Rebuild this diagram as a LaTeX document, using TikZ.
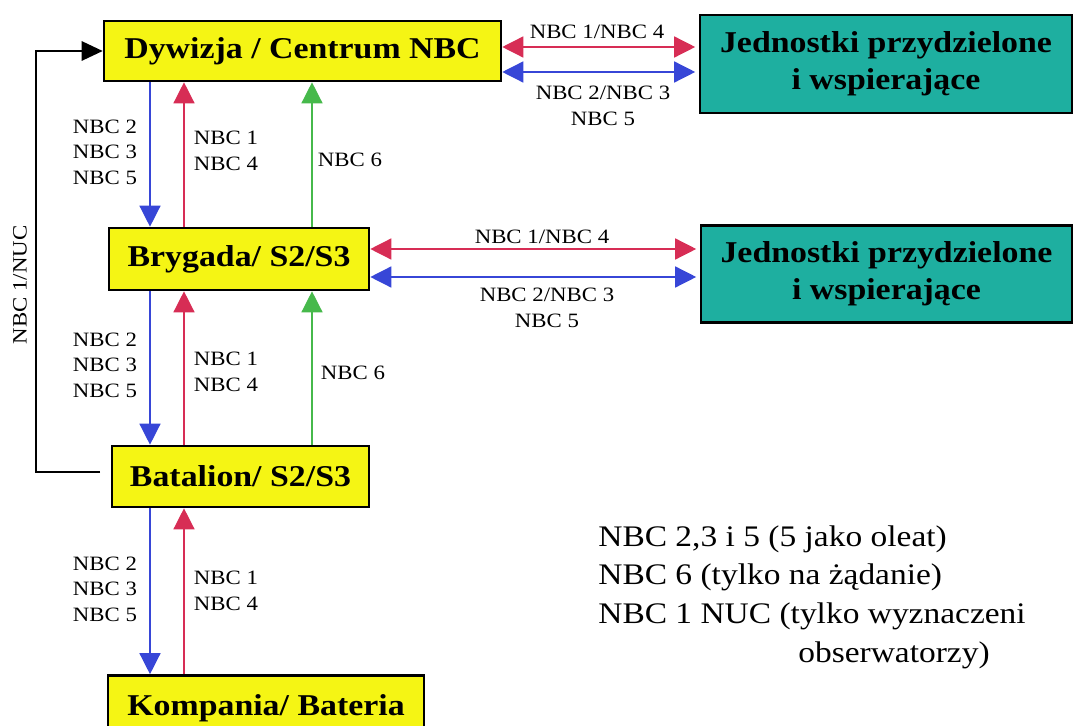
\documentclass[tikz,border=0pt]{standalone}
\usepackage{fontspec}
\setmainfont{Liberation Serif}[FakeStretch=1.12]
\usetikzlibrary{arrows.meta}

\definecolor{boxyellow}{RGB}{245,245,20}
\definecolor{boxteal}{RGB}{30,175,160}
\definecolor{arrred}{RGB}{215,45,85}
\definecolor{arrblue}{RGB}{55,70,215}
\definecolor{arrgreen}{RGB}{70,185,75}

\tikzset{
	unit/.style={draw=black, line width=1.5pt, fill=boxyellow, font=\fontsize{17.2}{21}\selectfont\bfseries, inner sep=0pt},
	attached/.style={unit, fill=boxteal, align=center},
	lab/.style={font=\fontsize{11.6}{14.5}\selectfont, align=left, inner sep=0pt},
	flow/.style={line width=0.8pt, -{Triangle[length=12pt,width=12pt]}},
	both/.style={line width=0.8pt, {Triangle[length=12pt,width=12pt]}-{Triangle[length=12pt,width=12pt]}, shorten >=2pt},
}

\begin{document}
\begin{tikzpicture}[x=0.02cm, y=-0.02cm]
	\useasboundingbox (0,0) rectangle (1076,726);
	% chain of command
	\node[unit, minimum width=7.94cm, minimum height=1.2cm] (dyw) at (302.5,51) {Dywizja / Centrum NBC};
	\node[unit, minimum width=5.2cm, minimum height=1.24cm] (bry) at (239,259) {Brygada/ S2/S3};
	\node[unit, minimum width=5.14cm, minimum height=1.22cm] (bat) at (240.5,476.5) {Batalion/ S2/S3};
	\node[unit, minimum width=6.32cm, minimum height=1.3cm] (kom) at (266,708) {Kompania/ Bateria};
	\node[attached, minimum width=7.44cm, minimum height=1.96cm] (jed1) at (886,64) {Jednostki przydzielone\\i wspierające};
	\node[attached, minimum width=7.42cm, minimum height=1.94cm] (jed2) at (886.5,274) {Jednostki przydzielone\\i wspierające};
	% vertical reports
	\coordinate (cb) at (150,0);
	\coordinate (cr) at (184,0);
	\coordinate (cg) at (312,0);
	\foreach \hi/\lo in {dyw/bry, bry/bat, bat/kom} {
		\draw[flow, arrblue] (cb |- \hi.south) -- (cb |- \lo.north);
		\draw[flow, arrred] (cr |- \lo.north) -- (cr |- \hi.south);
	}
	\foreach \hi/\lo in {dyw/bry, bry/bat} { \draw[flow, arrgreen] (cg |- \lo.north) -- (cg |- \hi.south); }
	\foreach \y/\lab in {152/a, 365/b, 589/c} { \node[lab] (down\lab) at (105,\y) {NBC 2\\NBC 3\\NBC 5}; }
	\foreach \y/\lab in {151/a, 372/b, 591/c} { \node[lab] (up\lab) at (226,\y) {NBC 1\\NBC 4}; }
	\node[lab] (sixa) at (350,160) {NBC 6};
	\node[lab] (sixb) at (353,373) {NBC 6};
	% side links
	\draw[both, arrred] (dyw.east |- 0,47) -- (jed1.west |- 0,47);
	\draw[both, arrblue] (dyw.east |- 0,72) -- (jed1.west |- 0,72);
	\draw[both, arrred] (bry.east |- 0,249) -- (jed2.west |- 0,249);
	\draw[both, arrblue] (bry.east |- 0,277) -- (jed2.west |- 0,277);
	\node[lab] (sidea) at (597,32) {NBC 1/NBC 4};
	\node[lab, align=center] (sideb) at (603,106) {NBC 2/NBC 3\\NBC 5};
	\node[lab] (sidec) at (542,237) {NBC 1/NBC 4};
	\node[lab, align=center] (sided) at (547,308) {NBC 2/NBC 3\\NBC 5};
	% NUC bypass
	\coordinate (nuc) at (36,472);
	\draw[line width=1.2pt, -{Triangle[length=12pt,width=11pt]}] ([xshift=-6pt]bat.west |- nuc) -- (nuc) |- (dyw.west);
	\node[lab, rotate=90] (nuclab) at (20,285) {NBC 1/NUC};
	% legend
	\node[anchor=north west, font=\fontsize{17}{22}\selectfont, align=left, inner sep=0pt] (legend) at (598,525)
		{NBC 2,3 i 5 (5 jako oleat)\\NBC 6 (tylko na żądanie)\\NBC 1 NUC (tylko wyznaczeni\\\hspace*{4cm}obserwatorzy)};
\end{tikzpicture}
\end{document}
